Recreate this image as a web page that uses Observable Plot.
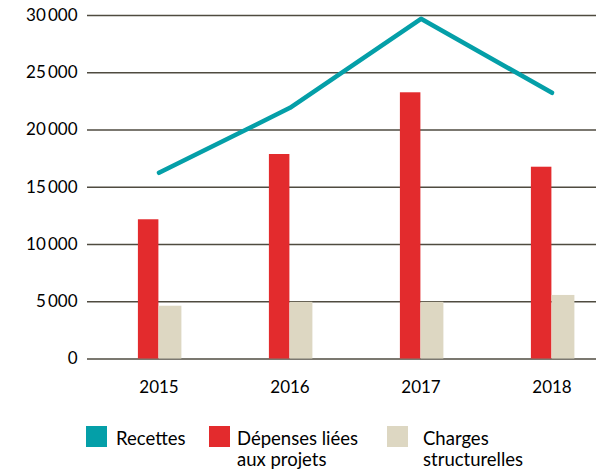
<!DOCTYPE html>
<html>
<head>
<meta charset="utf-8">
<script src="https://cdn.jsdelivr.net/npm/d3@7"></script>
<script src="https://cdn.jsdelivr.net/npm/@observablehq/plot@0.6"></script>
<style>
  body { margin: 0; background: #fff; font-family: Lato, sans-serif; }
  #wrap { width: 605px; height: 473px; position: relative; overflow: hidden; }
  #legend { position: relative; width: 605px; height: 68px; font-size: 18.5px; line-height: 21px; color: #000; }
  .item { position: absolute; top: 0; }
  .sw { position: absolute; top: 21px; width: 21px; height: 21px; }
  .lab { position: absolute; top: 23px; white-space: nowrap; }
</style>
</head>
<body>
<div id="wrap">
  <div id="chart"></div>
  <div id="legend"></div>
</div>
<script>
const years = ["2015", "2016", "2017", "2018"];
const recettes = [16260, 21940, 29710, 23250];
const depenses = [12160, 17860, 23250, 16750];
const charges = [4610, 4950, 4950, 5550];
const yTicks = [0, 5000, 10000, 15000, 20000, 25000, 30000];
const seriesNames = ["Recettes", "Dépenses liées<br>aux projets", "Charges<br>structurelles"];
const seriesColors = ["#049fa8", "#e32b2d", "#ddd7c2"];

const data = years.map((year, i) => ({year, recettes: recettes[i], depenses: depenses[i], charges: charges[i]}));
const fmt = d => d === 0 ? "0" : d3.format(",")(d).replace(",", "\u2009");

const chart = Plot.plot({
  width: 605,
  height: 405,
  marginTop: 15,
  marginBottom: 46.5,
  marginLeft: 87,
  marginRight: 9,
  style: {fontFamily: "Lato, sans-serif", fontSize: "17px", color: "#000", background: "white"},
  x: {domain: years, range: [92, 617], padding: 0, tickSize: 0, tickPadding: 21.5, label: null},
  y: {domain: [0, 30000], ticks: yTicks, tickFormat: fmt, tickSize: 0, tickPadding: 10, label: null},
  marks: [
    Plot.ruleY(yTicks, {stroke: "#4f4b40", strokeWidth: 1.4}),
    Plot.barY(data, {x: "year", y: "depenses", fill: seriesColors[1], insetLeft: 44.9, insetRight: 65.6}),
    Plot.barY(data, {x: "year", y: "charges", fill: seriesColors[2], insetLeft: 65.6, insetRight: 42.6}),
    Plot.line(data, {x: "year", y: "recettes", stroke: seriesColors[0], strokeWidth: 4.5, strokeLinejoin: "round", strokeLinecap: "round"})
  ]
});
document.getElementById("chart").appendChild(chart);

const legend = document.getElementById("legend");
const swLeft = [86, 209, 387];
const labLeft = [116, 237, 423];
seriesNames.forEach((name, i) => {
  const sw = document.createElement("div");
  sw.className = "sw";
  sw.style.left = swLeft[i] + "px";
  sw.style.background = seriesColors[i];
  legend.appendChild(sw);
  const lab = document.createElement("div");
  lab.className = "lab";
  lab.style.left = labLeft[i] + "px";
  lab.innerHTML = name;
  legend.appendChild(lab);
});
</script>
</body>
</html>
